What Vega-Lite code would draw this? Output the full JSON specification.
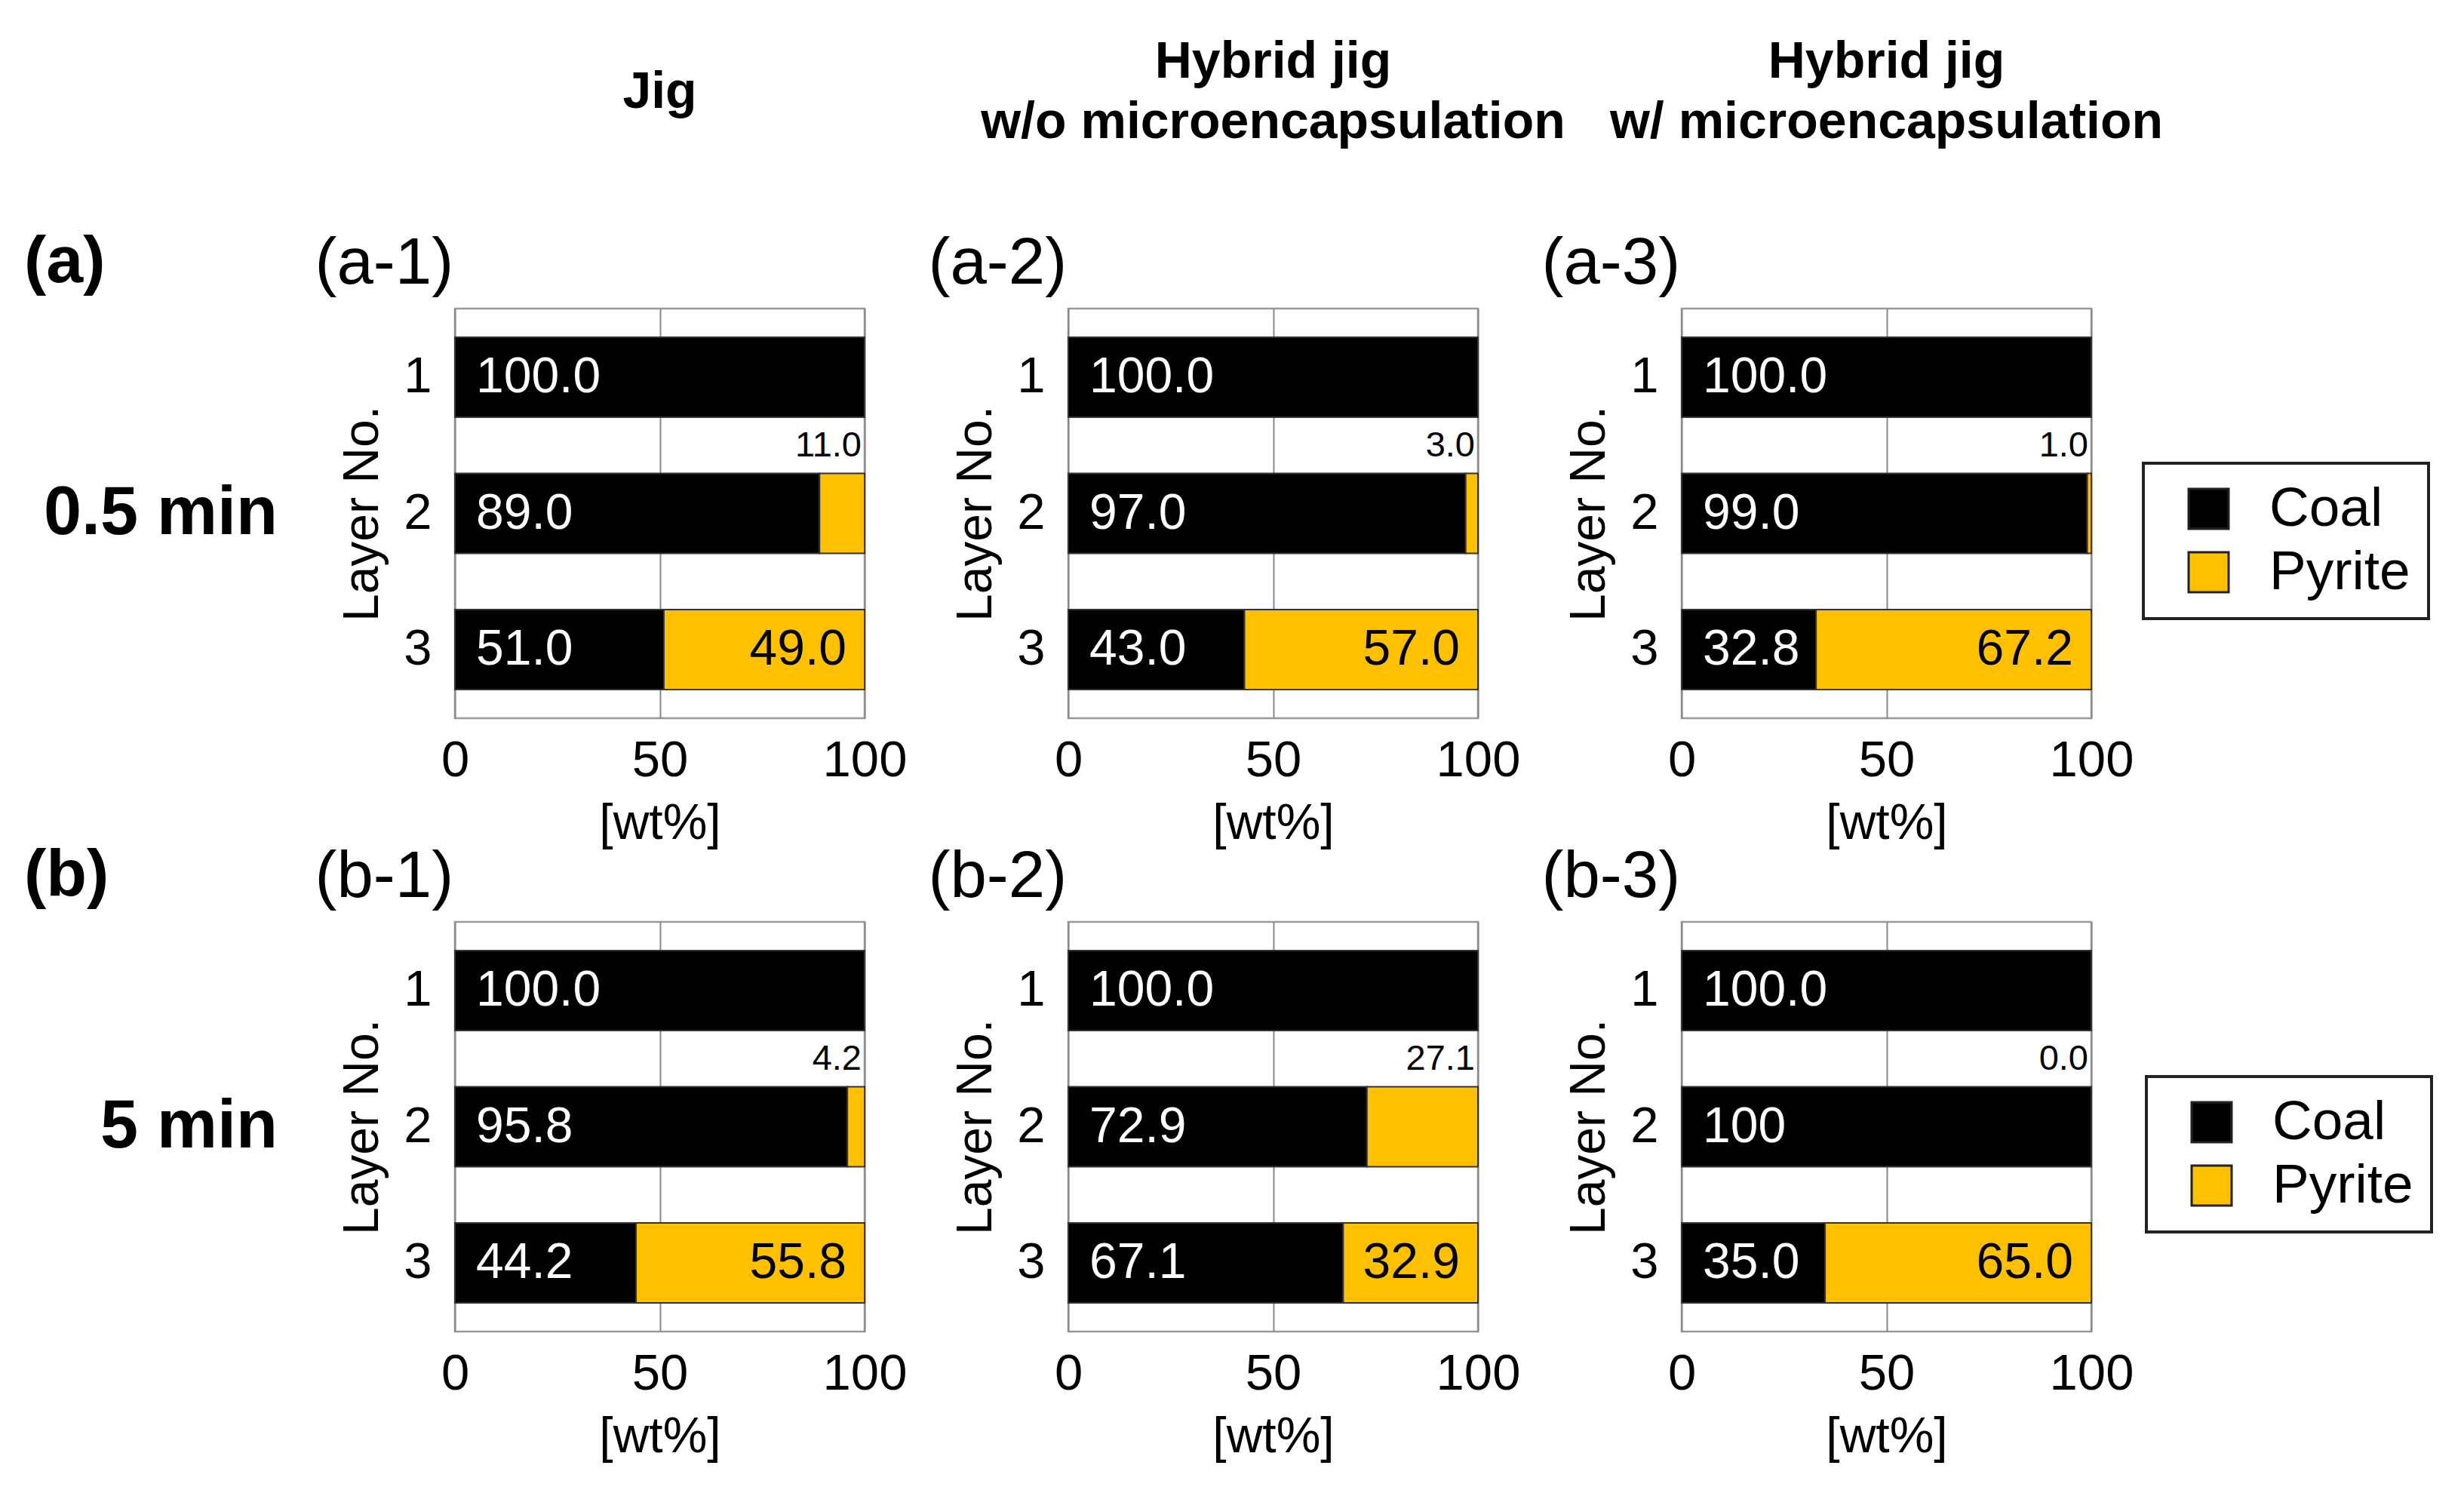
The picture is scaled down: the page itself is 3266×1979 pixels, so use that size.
{
  "$schema": "https://vega.github.io/schema/vega-lite/v6.json",
  "background": "white",
  "padding": {"left": 32, "top": 47, "right": 10, "bottom": 10},
  "datasets": {
    "bars": [
      {"panel": "a-1", "layer": "1", "material": "Coal", "value": 100, "label": "100.0"},
      {"panel": "a-1", "layer": "2", "material": "Coal", "value": 89, "label": "89.0"},
      {"panel": "a-1", "layer": "2", "material": "Pyrite", "value": 11, "label": "11.0"},
      {"panel": "a-1", "layer": "3", "material": "Coal", "value": 51, "label": "51.0"},
      {"panel": "a-1", "layer": "3", "material": "Pyrite", "value": 49, "label": "49.0"},
      {"panel": "a-2", "layer": "1", "material": "Coal", "value": 100, "label": "100.0"},
      {"panel": "a-2", "layer": "2", "material": "Coal", "value": 97, "label": "97.0"},
      {"panel": "a-2", "layer": "2", "material": "Pyrite", "value": 3, "label": "3.0"},
      {"panel": "a-2", "layer": "3", "material": "Coal", "value": 43, "label": "43.0"},
      {"panel": "a-2", "layer": "3", "material": "Pyrite", "value": 57, "label": "57.0"},
      {"panel": "a-3", "layer": "1", "material": "Coal", "value": 100, "label": "100.0"},
      {"panel": "a-3", "layer": "2", "material": "Coal", "value": 99, "label": "99.0"},
      {"panel": "a-3", "layer": "2", "material": "Pyrite", "value": 1, "label": "1.0"},
      {"panel": "a-3", "layer": "3", "material": "Coal", "value": 32.8, "label": "32.8"},
      {"panel": "a-3", "layer": "3", "material": "Pyrite", "value": 67.2, "label": "67.2"},
      {"panel": "b-1", "layer": "1", "material": "Coal", "value": 100, "label": "100.0"},
      {"panel": "b-1", "layer": "2", "material": "Coal", "value": 95.8, "label": "95.8"},
      {"panel": "b-1", "layer": "2", "material": "Pyrite", "value": 4.2, "label": "4.2"},
      {"panel": "b-1", "layer": "3", "material": "Coal", "value": 44.2, "label": "44.2"},
      {"panel": "b-1", "layer": "3", "material": "Pyrite", "value": 55.8, "label": "55.8"},
      {"panel": "b-2", "layer": "1", "material": "Coal", "value": 100, "label": "100.0"},
      {"panel": "b-2", "layer": "2", "material": "Coal", "value": 72.9, "label": "72.9"},
      {"panel": "b-2", "layer": "2", "material": "Pyrite", "value": 27.1, "label": "27.1"},
      {"panel": "b-2", "layer": "3", "material": "Coal", "value": 67.1, "label": "67.1"},
      {"panel": "b-2", "layer": "3", "material": "Pyrite", "value": 32.9, "label": "32.9"},
      {"panel": "b-3", "layer": "1", "material": "Coal", "value": 100, "label": "100.0"},
      {"panel": "b-3", "layer": "2", "material": "Coal", "value": 100, "label": "100"},
      {"panel": "b-3", "layer": "2", "material": "Pyrite", "value": 0, "label": "0.0"},
      {"panel": "b-3", "layer": "3", "material": "Coal", "value": 35, "label": "35.0"},
      {"panel": "b-3", "layer": "3", "material": "Pyrite", "value": 65, "label": "65.0"}
    ],
    "rows": [
      {"row": "a", "row_label": "0.5 min"},
      {"row": "b", "row_label": "5 min"}
    ]
  },
  "columns": 4,
  "bounds": "flush",
  "spacing": 270,
  "concat": [
    {
      "width": 301, "height": 543,
      "view": {"stroke": null},
      "data": {"name": "rows"},
      "transform": [{"filter": "datum.row === 'a'"}],
      "title": {"text": "(a)", "fontSize": 88, "fontWeight": "bold", "anchor": "start", "frame": "group", "baseline": "middle", "offset": -27},
      "mark": {"type": "text", "x": "width", "align": "right", "dx": 35, "baseline": "middle", "fontSize": 90, "fontWeight": "bold", "color": "#000000"},
      "encoding": {"text": {"field": "row_label", "type": "nominal"}}
    },
    {
      "width": 543, "height": 543,
      "data": {"name": "bars"},
      "transform": [{"filter": "datum.panel === 'a-1'"}],
      "title": {"text": ["Jig", " "], "fontSize": 68, "fontWeight": "bold", "anchor": "middle", "frame": "group", "baseline": "middle", "lineHeight": 40, "offset": 74},
      "encoding": {"y": {"field": "layer", "type": "nominal", "scale": {"domain": ["1", "2", "3"], "paddingInner": 0.413, "paddingOuter": 0.21}, "axis": {"title": "Layer No.", "orient": "left"}}},
      "layer": [
        {"transform": [{"filter": "datum.value > 0"}],
         "mark": {"type": "bar", "stroke": "#333333", "strokeWidth": 2},
         "encoding": {
           "x": {"field": "value", "type": "quantitative", "stack": "zero", "scale": {"domain": [0, 100], "nice": false}, "axis": {"orient": "bottom", "values": [0, 50, 100], "title": "[wt%]", "grid": true}},
           "color": {"field": "material", "type": "nominal", "scale": {"domain": ["Coal", "Pyrite"], "range": ["#000000", "#FFC000"]}, "legend": null},
           "order": {"field": "material", "type": "nominal"}}},
        {"transform": [{"filter": "datum.material === 'Coal'"}],
         "mark": {"type": "text", "align": "left", "baseline": "middle", "dx": 28, "fontSize": 66, "color": "#ffffff"},
         "encoding": {"x": {"datum": 0, "type": "quantitative", "axis": {"orient": "top", "title": "(a-1)", "labels": false, "ticks": false, "domain": false, "grid": false, "titleX": -186, "titleY": -60}}, "text": {"field": "label", "type": "nominal"}}},
        {"transform": [{"filter": "datum.material === 'Pyrite' && datum.layer === '3'"}],
         "mark": {"type": "text", "align": "right", "baseline": "middle", "dx": -24, "fontSize": 66, "color": "#000000"},
         "encoding": {"x": {"datum": 100, "type": "quantitative", "axis": null}, "text": {"field": "label", "type": "nominal"}}},
        {"transform": [{"filter": "datum.material === 'Pyrite' && datum.layer === '2'"}],
         "mark": {"type": "text", "align": "right", "baseline": "middle", "dx": -4, "dy": -90, "fontSize": 47, "color": "#000000"},
         "encoding": {"x": {"datum": 100, "type": "quantitative", "axis": null}, "text": {"field": "label", "type": "nominal"}}}
      ],
      "resolve": {"axis": {"x": "independent"}}
    },
    {
      "width": 543, "height": 543,
      "data": {"name": "bars"},
      "transform": [{"filter": "datum.panel === 'a-2'"}],
      "title": {"text": ["Hybrid jig", "w/o microencapsulation"], "fontSize": 68, "fontWeight": "bold", "anchor": "middle", "frame": "group", "baseline": "middle", "lineHeight": 80, "offset": 74},
      "encoding": {"y": {"field": "layer", "type": "nominal", "scale": {"domain": ["1", "2", "3"], "paddingInner": 0.413, "paddingOuter": 0.21}, "axis": {"title": "Layer No.", "orient": "left"}}},
      "layer": [
        {"transform": [{"filter": "datum.value > 0"}],
         "mark": {"type": "bar", "stroke": "#333333", "strokeWidth": 2},
         "encoding": {
           "x": {"field": "value", "type": "quantitative", "stack": "zero", "scale": {"domain": [0, 100], "nice": false}, "axis": {"orient": "bottom", "values": [0, 50, 100], "title": "[wt%]", "grid": true}},
           "color": {"field": "material", "type": "nominal", "scale": {"domain": ["Coal", "Pyrite"], "range": ["#000000", "#FFC000"]}, "legend": null},
           "order": {"field": "material", "type": "nominal"}}},
        {"transform": [{"filter": "datum.material === 'Coal'"}],
         "mark": {"type": "text", "align": "left", "baseline": "middle", "dx": 28, "fontSize": 66, "color": "#ffffff"},
         "encoding": {"x": {"datum": 0, "type": "quantitative", "axis": {"orient": "top", "title": "(a-2)", "labels": false, "ticks": false, "domain": false, "grid": false, "titleX": -186, "titleY": -60}}, "text": {"field": "label", "type": "nominal"}}},
        {"transform": [{"filter": "datum.material === 'Pyrite' && datum.layer === '3'"}],
         "mark": {"type": "text", "align": "right", "baseline": "middle", "dx": -24, "fontSize": 66, "color": "#000000"},
         "encoding": {"x": {"datum": 100, "type": "quantitative", "axis": null}, "text": {"field": "label", "type": "nominal"}}},
        {"transform": [{"filter": "datum.material === 'Pyrite' && datum.layer === '2'"}],
         "mark": {"type": "text", "align": "right", "baseline": "middle", "dx": -4, "dy": -90, "fontSize": 47, "color": "#000000"},
         "encoding": {"x": {"datum": 100, "type": "quantitative", "axis": null}, "text": {"field": "label", "type": "nominal"}}}
      ],
      "resolve": {"axis": {"x": "independent"}}
    },
    {
      "width": 543, "height": 543,
      "data": {"name": "bars"},
      "transform": [{"filter": "datum.panel === 'a-3'"}],
      "title": {"text": ["Hybrid jig", "w/ microencapsulation"], "fontSize": 68, "fontWeight": "bold", "anchor": "middle", "frame": "group", "baseline": "middle", "lineHeight": 80, "offset": 74},
      "encoding": {"y": {"field": "layer", "type": "nominal", "scale": {"domain": ["1", "2", "3"], "paddingInner": 0.413, "paddingOuter": 0.21}, "axis": {"title": "Layer No.", "orient": "left"}}},
      "layer": [
        {"transform": [{"filter": "datum.value > 0"}],
         "mark": {"type": "bar", "stroke": "#333333", "strokeWidth": 2},
         "encoding": {
           "x": {"field": "value", "type": "quantitative", "stack": "zero", "scale": {"domain": [0, 100], "nice": false}, "axis": {"orient": "bottom", "values": [0, 50, 100], "title": "[wt%]", "grid": true}},
           "color": {"field": "material", "type": "nominal", "scale": {"domain": ["Coal", "Pyrite"], "range": ["#000000", "#FFC000"]},
             "legend": {"orient": "none", "legendX": 612, "legendY": 205, "title": null, "symbolType": "square", "symbolSize": 2809, "symbolStrokeColor": "#222222", "symbolStrokeWidth": 3, "labelFontSize": 73, "labelLimit": 500, "labelOffset": 44, "rowPadding": 10, "padding": 24, "symbolOffset": 26, "strokeColor": "#222222", "fillColor": "#ffffff"}},
           "order": {"field": "material", "type": "nominal"}}},
        {"transform": [{"filter": "datum.material === 'Coal'"}],
         "mark": {"type": "text", "align": "left", "baseline": "middle", "dx": 28, "fontSize": 66, "color": "#ffffff"},
         "encoding": {"x": {"datum": 0, "type": "quantitative", "axis": {"orient": "top", "title": "(a-3)", "labels": false, "ticks": false, "domain": false, "grid": false, "titleX": -186, "titleY": -60}}, "text": {"field": "label", "type": "nominal"}}},
        {"transform": [{"filter": "datum.material === 'Pyrite' && datum.layer === '3'"}],
         "mark": {"type": "text", "align": "right", "baseline": "middle", "dx": -24, "fontSize": 66, "color": "#000000"},
         "encoding": {"x": {"datum": 100, "type": "quantitative", "axis": null}, "text": {"field": "label", "type": "nominal"}}},
        {"transform": [{"filter": "datum.material === 'Pyrite' && datum.layer === '2'"}],
         "mark": {"type": "text", "align": "right", "baseline": "middle", "dx": -4, "dy": -90, "fontSize": 47, "color": "#000000"},
         "encoding": {"x": {"datum": 100, "type": "quantitative", "axis": null}, "text": {"field": "label", "type": "nominal"}}}
      ],
      "resolve": {"axis": {"x": "independent"}}
    },
    {
      "width": 301, "height": 543,
      "view": {"stroke": null},
      "data": {"name": "rows"},
      "transform": [{"filter": "datum.row === 'b'"}],
      "title": {"text": "(b)", "fontSize": 88, "fontWeight": "bold", "anchor": "start", "frame": "group", "baseline": "middle", "offset": -27},
      "mark": {"type": "text", "x": "width", "align": "right", "dx": 35, "baseline": "middle", "fontSize": 90, "fontWeight": "bold", "color": "#000000"},
      "encoding": {"text": {"field": "row_label", "type": "nominal"}}
    },
    {
      "width": 543, "height": 543,
      "data": {"name": "bars"},
      "transform": [{"filter": "datum.panel === 'b-1'"}],
      "encoding": {"y": {"field": "layer", "type": "nominal", "scale": {"domain": ["1", "2", "3"], "paddingInner": 0.413, "paddingOuter": 0.21}, "axis": {"title": "Layer No.", "orient": "left"}}},
      "layer": [
        {"transform": [{"filter": "datum.value > 0"}],
         "mark": {"type": "bar", "stroke": "#333333", "strokeWidth": 2},
         "encoding": {
           "x": {"field": "value", "type": "quantitative", "stack": "zero", "scale": {"domain": [0, 100], "nice": false}, "axis": {"orient": "bottom", "values": [0, 50, 100], "title": "[wt%]", "grid": true}},
           "color": {"field": "material", "type": "nominal", "scale": {"domain": ["Coal", "Pyrite"], "range": ["#000000", "#FFC000"]}, "legend": null},
           "order": {"field": "material", "type": "nominal"}}},
        {"transform": [{"filter": "datum.material === 'Coal'"}],
         "mark": {"type": "text", "align": "left", "baseline": "middle", "dx": 28, "fontSize": 66, "color": "#ffffff"},
         "encoding": {"x": {"datum": 0, "type": "quantitative", "axis": {"orient": "top", "title": "(b-1)", "labels": false, "ticks": false, "domain": false, "grid": false, "titleX": -186, "titleY": -60}}, "text": {"field": "label", "type": "nominal"}}},
        {"transform": [{"filter": "datum.material === 'Pyrite' && datum.layer === '3'"}],
         "mark": {"type": "text", "align": "right", "baseline": "middle", "dx": -24, "fontSize": 66, "color": "#000000"},
         "encoding": {"x": {"datum": 100, "type": "quantitative", "axis": null}, "text": {"field": "label", "type": "nominal"}}},
        {"transform": [{"filter": "datum.material === 'Pyrite' && datum.layer === '2'"}],
         "mark": {"type": "text", "align": "right", "baseline": "middle", "dx": -4, "dy": -90, "fontSize": 47, "color": "#000000"},
         "encoding": {"x": {"datum": 100, "type": "quantitative", "axis": null}, "text": {"field": "label", "type": "nominal"}}}
      ],
      "resolve": {"axis": {"x": "independent"}}
    },
    {
      "width": 543, "height": 543,
      "data": {"name": "bars"},
      "transform": [{"filter": "datum.panel === 'b-2'"}],
      "encoding": {"y": {"field": "layer", "type": "nominal", "scale": {"domain": ["1", "2", "3"], "paddingInner": 0.413, "paddingOuter": 0.21}, "axis": {"title": "Layer No.", "orient": "left"}}},
      "layer": [
        {"transform": [{"filter": "datum.value > 0"}],
         "mark": {"type": "bar", "stroke": "#333333", "strokeWidth": 2},
         "encoding": {
           "x": {"field": "value", "type": "quantitative", "stack": "zero", "scale": {"domain": [0, 100], "nice": false}, "axis": {"orient": "bottom", "values": [0, 50, 100], "title": "[wt%]", "grid": true}},
           "color": {"field": "material", "type": "nominal", "scale": {"domain": ["Coal", "Pyrite"], "range": ["#000000", "#FFC000"]}, "legend": null},
           "order": {"field": "material", "type": "nominal"}}},
        {"transform": [{"filter": "datum.material === 'Coal'"}],
         "mark": {"type": "text", "align": "left", "baseline": "middle", "dx": 28, "fontSize": 66, "color": "#ffffff"},
         "encoding": {"x": {"datum": 0, "type": "quantitative", "axis": {"orient": "top", "title": "(b-2)", "labels": false, "ticks": false, "domain": false, "grid": false, "titleX": -186, "titleY": -60}}, "text": {"field": "label", "type": "nominal"}}},
        {"transform": [{"filter": "datum.material === 'Pyrite' && datum.layer === '3'"}],
         "mark": {"type": "text", "align": "right", "baseline": "middle", "dx": -24, "fontSize": 66, "color": "#000000"},
         "encoding": {"x": {"datum": 100, "type": "quantitative", "axis": null}, "text": {"field": "label", "type": "nominal"}}},
        {"transform": [{"filter": "datum.material === 'Pyrite' && datum.layer === '2'"}],
         "mark": {"type": "text", "align": "right", "baseline": "middle", "dx": -4, "dy": -90, "fontSize": 47, "color": "#000000"},
         "encoding": {"x": {"datum": 100, "type": "quantitative", "axis": null}, "text": {"field": "label", "type": "nominal"}}}
      ],
      "resolve": {"axis": {"x": "independent"}}
    },
    {
      "width": 543, "height": 543,
      "data": {"name": "bars"},
      "transform": [{"filter": "datum.panel === 'b-3'"}],
      "encoding": {"y": {"field": "layer", "type": "nominal", "scale": {"domain": ["1", "2", "3"], "paddingInner": 0.413, "paddingOuter": 0.21}, "axis": {"title": "Layer No.", "orient": "left"}}},
      "layer": [
        {"transform": [{"filter": "datum.value > 0"}],
         "mark": {"type": "bar", "stroke": "#333333", "strokeWidth": 2},
         "encoding": {
           "x": {"field": "value", "type": "quantitative", "stack": "zero", "scale": {"domain": [0, 100], "nice": false}, "axis": {"orient": "bottom", "values": [0, 50, 100], "title": "[wt%]", "grid": true}},
           "color": {"field": "material", "type": "nominal", "scale": {"domain": ["Coal", "Pyrite"], "range": ["#000000", "#FFC000"]},
             "legend": {"orient": "none", "legendX": 616, "legendY": 205, "title": null, "symbolType": "square", "symbolSize": 2809, "symbolStrokeColor": "#222222", "symbolStrokeWidth": 3, "labelFontSize": 73, "labelLimit": 500, "labelOffset": 44, "rowPadding": 10, "padding": 24, "symbolOffset": 26, "strokeColor": "#222222", "fillColor": "#ffffff"}},
           "order": {"field": "material", "type": "nominal"}}},
        {"transform": [{"filter": "datum.material === 'Coal'"}],
         "mark": {"type": "text", "align": "left", "baseline": "middle", "dx": 28, "fontSize": 66, "color": "#ffffff"},
         "encoding": {"x": {"datum": 0, "type": "quantitative", "axis": {"orient": "top", "title": "(b-3)", "labels": false, "ticks": false, "domain": false, "grid": false, "titleX": -186, "titleY": -60}}, "text": {"field": "label", "type": "nominal"}}},
        {"transform": [{"filter": "datum.material === 'Pyrite' && datum.layer === '3'"}],
         "mark": {"type": "text", "align": "right", "baseline": "middle", "dx": -24, "fontSize": 66, "color": "#000000"},
         "encoding": {"x": {"datum": 100, "type": "quantitative", "axis": null}, "text": {"field": "label", "type": "nominal"}}},
        {"transform": [{"filter": "datum.material === 'Pyrite' && datum.layer === '2'"}],
         "mark": {"type": "text", "align": "right", "baseline": "middle", "dx": -4, "dy": -90, "fontSize": 47, "color": "#000000"},
         "encoding": {"x": {"datum": 100, "type": "quantitative", "axis": null}, "text": {"field": "label", "type": "nominal"}}}
      ],
      "resolve": {"axis": {"x": "independent"}}
    }
  ],
  "resolve": {"scale": {"color": "independent"}, "legend": {"color": "independent"}},
  "config": {
    "font": "Liberation Sans",
    "view": {"stroke": "#999999", "strokeWidth": 2.5},
    "axis": {"labelFont": "Liberation Sans", "titleFont": "Liberation Sans", "labelColor": "#000000", "titleColor": "#000000", "titleFontWeight": "normal", "labelFontSize": 67, "titleFontSize": 66, "tickSize": 0, "ticks": false, "domain": false},
    "axisBottom": {"labelPadding": 23, "titlePadding": 18, "labelFlush": false, "gridColor": "#888888", "gridWidth": 2, "gridOpacity": 1},
    "axisLeft": {"labelPadding": 31, "titlePadding": 20, "grid": false, "labelAngle": 0},
    "axisTop": {"titleFontSize": 87, "titleAlign": "left", "titleBaseline": "middle", "titleAnchor": "start"},
    "title": {"font": "Liberation Sans", "color": "#000000"},
    "text": {"font": "Liberation Sans"},
    "legend": {"labelFont": "Liberation Sans", "labelColor": "#000000", "strokeWidth": 4}
  }
}
